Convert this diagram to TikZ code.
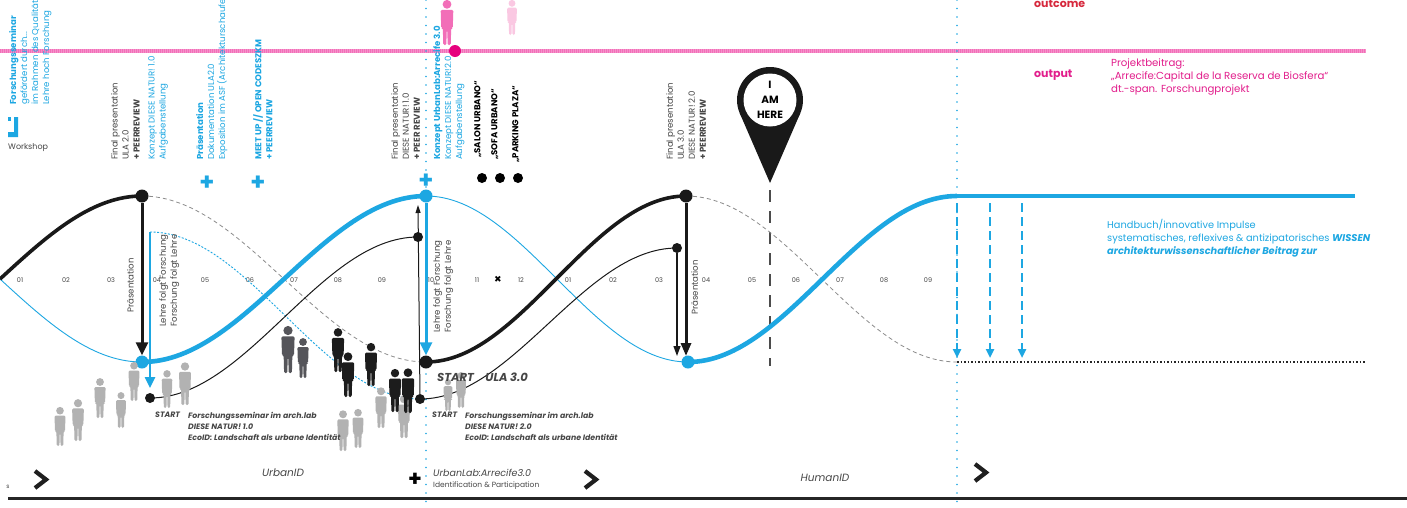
\documentclass[tikz,border=0pt]{standalone}
\usepackage{fontspec}
\setmainfont{Poppins}
\usetikzlibrary{arrows.meta}

\definecolor{ulablue}{RGB}{29,167,226}
\definecolor{txtgray}{RGB}{70,70,70}
\definecolor{pinkline}{RGB}{242,110,184}
\definecolor{magentadot}{RGB}{230,0,126}
\definecolor{outred}{RGB}{214,40,60}
\definecolor{outpink}{RGB}{226,30,140}
\definecolor{crowdgray}{RGB}{178,178,178}
\definecolor{crowddark}{RGB}{28,28,28}
\definecolor{crowdmid}{RGB}{85,85,90}
\definecolor{lightpink}{RGB}{250,200,226}

% half cosine wave from (a,ya) to (b,yb), drawn on the interval [from,to]
\newcommand\halfwave[6]{plot[domain=#5:#6,samples=60,variable=\t]
  (\t,{((#2)+(#4))/2+((#2)-(#4))/2*cos(180*((\t-(#1))/((#3)-(#1))))})}

\tikzset{
  rot/.style={rotate=90, anchor=north west, align=left, inner sep=0pt},
  tick/.style={font=\fontsize{6.5}{7}\selectfont, text=txtgray, inner sep=0pt},
  thickblack/.style={line width=3.6pt, black!90},
  thickblue/.style={line width=4.6pt, ulablue},
  thinblack/.style={line width=1pt, black!90},
  thinblue/.style={line width=0.9pt, ulablue},
  dashblue/.style={line width=0.9pt, ulablue, dash pattern=on 2pt off 1.6pt},
  dashgray/.style={line width=0.8pt, black!45, dash pattern=on 4pt off 3pt},
  vdots/.style={line width=1.8pt, ulablue, dash pattern=on 0pt off 8.5pt, line cap=round},
  bigdot/.style={circle, inner sep=0pt, minimum size=13pt},
  smalldot/.style={circle, fill=black!90, inner sep=0pt, minimum size=10pt},
  plussign/.style={font=\bfseries\fontsize{24}{24}\selectfont, text=ulablue, inner sep=0pt},
  chevron/.style={line width=4.2pt, black!88, miter limit=4},
  starttxt/.style={font=\bfseries\itshape\fontsize{7.8}{11}\selectfont, text=txtgray, anchor=north west, align=left, inner sep=0pt},
  person/.pic={
    \fill (0,-36) circle[radius=3.9pt];
    \fill[rounded corners=1.3pt] (-5.6,-31) -- (5.6,-31) -- (5.1,-15) -- (3.7,-15)
      -- (3.3,0) -- (0.6,0) -- (0.25,-13) -- (-0.25,-13) -- (-0.6,0) -- (-3.3,0)
      -- (-3.7,-15) -- (-5.1,-15) -- cycle;
  }
}

\begin{document}
\begin{tikzpicture}[x=1pt,y=-1pt,font=\fontsize{8.6}{11}\selectfont]
\useasboundingbox (0,0) rectangle (1407,507);
\fill[white] (0,0) rectangle (1407,507);

% ---------- output / outcome band ----------
\coordinate (pinkL) at (0,51);
\coordinate (pinkR) at (1366,51);
\draw[line width=3.2pt, pinkline!75] (pinkL) -- (pinkR);
\draw[line width=3.2pt, pinkline, dash pattern=on 1pt off 1pt] (pinkL) -- (pinkR);

\pic[pinkline, scale=1.13] at (447,45) {person};
\pic[lightpink, scale=0.88] at (512,35) {person};
\node[circle, fill=magentadot, inner sep=0pt, minimum size=12pt] (outdot) at (455,51) {};

\node[anchor=west, inner sep=0pt, text=outred, font=\bfseries\fontsize{11}{12}\selectfont] (outcome) at (1034,4) {outcome};
\node[anchor=west, inner sep=0pt, text=outpink, font=\bfseries\fontsize{11}{12}\selectfont] (output) at (1034,75) {output};
\node[anchor=north west, inner sep=0pt, align=left, text=outpink, font=\fontsize{10.2}{13}\selectfont] (projekt) at (1111,59)
  {Projektbeitrag:\\„Arrecife:Capital de la Reserva de Biosfera“\\dt.-span. Forschungprojekt};

% ---------- phase separators ----------
\coordinate (sepAtop) at (426,0);
\coordinate (sepAbot) at (426,507);
\coordinate (sepBtop) at (957,0);
\coordinate (sepBbot) at (957,507);
\draw[vdots] (sepAtop) -- (sepAbot);
\draw[vdots] (sepBtop) -- (sepBbot);

% ---------- workshop legend ----------
\fill[ulablue] (14,117) -- (18,117) -- (18,137) -- (8,137) -- (8,132) -- (14,132) -- cycle;
\fill[ulablue] (8,117) rectangle (11,121);
\node[anchor=west, inner sep=0pt, text=txtgray, font=\fontsize{8}{9}\selectfont] (workshop) at (8,148) {Workshop};

% ---------- rotated milestone labels ----------
\node[rot, text=ulablue] (fsem) at (9,105)
  {\textbf{Forschungsseminar}\\gefördert durch...\\im Rahmen des Qualitätspakts Lehre\\Lehre hoch Forschung};
\node[rot, text=txtgray] (finA) at (111,160)
  {Final presentation\\ULA 2.0\\\textbf{+ PEERREVIEW}};
\node[rot, text=ulablue] (konzA) at (148,160)
  {Konzept DIESE NATUR! 1.0\\Aufgabenstellung};
\node[rot, text=ulablue] (praesA) at (196,160)
  {\textbf{Präsentation}\\Dokumentation ULA2.0\\Exposition im ASF (Architekturschaufenster)};
\node[rot, text=ulablue] (meet) at (253,160)
  {\textbf{MEET UP // OPEN CODESZKM}\\\textbf{+ PEERREVIEW}};
\node[rot, text=txtgray] (finB) at (391,160)
  {Final presentation\\DIESE NATUR! 1.0\\\textbf{+ PEER REVIEW}};
\node[rot, text=ulablue] (konzB) at (433,160)
  {\textbf{Konzept UrbanLab:Arrecife 3.0}\\Konzept DIESE NATUR!2.0\\Aufgabenstellung};
\node[rot, text=black, font=\bfseries\fontsize{8.6}{11}\selectfont] (salon) at (474,158) {„SALON URBANO“};
\node[rot, text=black, font=\bfseries\fontsize{8.6}{11}\selectfont] (sofa) at (491,160) {„SOFA URBANO“};
\node[rot, text=black, font=\bfseries\fontsize{8.6}{11}\selectfont] (parking) at (512,163) {„PARKING PLAZA“};
\node[rot, text=txtgray] (finC) at (666,160)
  {Final presentation\\ULA 3.0\\DIESE NATUR! 2.0\\\textbf{+ PEERREVIEW}};

\node[plussign] (plusA) at (207,183) {+};
\node[plussign] (plusB) at (258,183) {+};
\node[plussign] (plusC) at (426,181) {+};
\foreach \px/\nm in {482/dA,500/dB,518/dC}
  \node[circle, fill=black, inner sep=0pt, minimum size=10pt] (\nm) at (\px,178) {};

% ---------- I AM HERE marker ----------
\coordinate (pinc) at (770,100);
\coordinate (pintip) at (770,183);
\fill[black!90] (739.7,113.1) -- (pintip) -- (800.3,113.1) -- cycle;
\fill[black!90] (pinc) circle[radius=33pt];
\fill[white] (pinc) circle[radius=26.5pt];
\node[align=center, inner sep=0pt, font=\bfseries\fontsize{10.5}{15}\selectfont] (here) at (pinc) {I\\AM\\HERE};
\coordinate (nowtop) at (770,190);
\coordinate (nowbot) at (770,366);
\draw[line width=1.6pt, black!70, dash pattern=on 12pt off 9pt] (nowtop) -- (nowbot);

% ---------- time axis ----------
\foreach \tx/\tl in {20/01,66/02,111/03,157/04,205/05,250/06,294/07,338/08,382/09,431/10,477/11,521/12,
                     568/01,613/02,659/03,706/04,752/05,796/06,840/07,884/08,928/09}
  \node[tick] at (\tx,280) {\tl};
\node[font=\bfseries\fontsize{12}{12}\selectfont, inner sep=0pt] (xmark) at (498,280) {×};

% ---------- waves ----------
\draw[dashgray] \halfwave{142}{196}{426}{362}{142}{426};
\draw[dashgray] \halfwave{686}{196}{957}{362}{686}{957};
\draw[thinblue] \halfwave{-142}{196}{142}{362}{0}{142};
\draw[thinblue] \halfwave{426}{196}{688}{362}{426}{688};
\draw[dashblue] \halfwave{150}{232}{420}{399}{150}{420};
\draw[thinblack] \halfwave{150}{398}{418}{237}{150}{418};
\draw[thinblack] \halfwave{420}{399}{677}{248}{420}{677};
\draw[thickblack] \halfwave{-142}{362}{142}{196}{0}{142};
\draw[thickblack] \halfwave{426}{362}{686}{196}{426}{686};
\draw[thickblue] \halfwave{142}{362}{426}{196}{142}{426};
\draw[thickblue] \halfwave{688}{362}{957}{196}{688}{957};

\coordinate (plateauL) at (957,196);
\coordinate (plateauR) at (1355,196);
\draw[thickblue] (plateauL) -- (plateauR);
\coordinate (baseL) at (957,362);
\coordinate (baseR) at (1366,362);
\draw[line width=1.2pt, black!85, dash pattern=on 1.5pt off 2pt] (baseL) -- (baseR);

% ---------- key points ----------
\node[bigdot, fill=black!90] (pkA) at (142,196) {};
\node[bigdot, fill=ulablue] (trA) at (142,362) {};
\node[bigdot, fill=ulablue] (pkB) at (426,196) {};
\node[bigdot, fill=black!90] (trB) at (426,362) {};
\node[bigdot, fill=black!90] (pkC) at (686,196) {};
\node[bigdot, fill=ulablue] (trC) at (688,362) {};
\node[smalldot] (loA) at (150,398) {};
\node[smalldot] (hiA) at (418,237) {};
\node[smalldot] (loB) at (420,399) {};
\node[smalldot] (hiB) at (677,248) {};
\coordinate (bluestartA) at (150,232);
\coordinate (blueendA) at (150,388);

% ---------- transfer arrows ----------
\coordinate (upB) at (418,205);
\coordinate (downC) at (686,356);
\coordinate (downD) at (677,356);
\draw[thickblack, line width=3pt, -{Triangle[length=13pt,width=12pt]}] (pkA) -- (trA);
\draw[thinblue, line width=2.4pt, -{Triangle[length=11pt,width=10pt]}] (bluestartA) -- (blueendA);
\draw[thickblue, line width=3pt, -{Triangle[length=13pt,width=12pt]}] (pkB) -- (trB);
\draw[thinblack, -{Triangle[length=8pt,width=5pt]}] (loB) -- (upB);
\draw[thickblack, line width=3pt, -{Triangle[length=13pt,width=10pt]}] (pkC) -- (downC);
\draw[thinblack, line width=1.3pt, -{Triangle[length=10pt,width=7pt]}] (hiB) -- (downD);

\node[rot, text=txtgray] (praesB) at (127,313) {Präsentation};
\node[rot, text=txtgray] (lehreA) at (159,327) {Lehre folgt Forschung\\Forschung folgt Lehre};
\node[rot, text=txtgray] (lehreB) at (433,333) {Lehre folgt Forschung\\Forschung folgt Lehre};
\node[rot, text=txtgray] (praesC) at (691,315) {Präsentation};

% ---------- knowledge output arrows ----------
\foreach \ax/\nm in {957/kA,990/kB,1022/kC}{
  \coordinate (\nm top) at (\ax,203);
  \coordinate (\nm bot) at (\ax,358);
  \draw[ulablue, line width=2.4pt, dash pattern=on 9pt off 5pt, -{Triangle[length=9pt,width=8pt]}] (\nm top) -- (\nm bot);
}
\node[anchor=north west, inner sep=0pt, align=left, text=ulablue, font=\fontsize{9.8}{13}\selectfont] (wissen) at (1107,219)
  {Handbuch/innovative Impulse\\systematisches, reflexives \& antizipatorisches \textbf{\textit{WISSEN}}\\\textbf{\textit{architekturwissenschaftlicher Beitrag zur}}};

% ---------- crowds ----------
\foreach \cx/\cy/\cs in {60/446/0.98, 78/441/1.05, 100/418/1.0, 121/428/0.9, 134/401/0.98,
                        167/408/0.95, 185/405/1.07, 343/451/1.02, 358/448/0.98, 381/428/1.02,
                        404/438/1.08, 448/411/0.8, 461/408/0.9}
  \pic[crowdgray, scale=\cs] at (\cx,\cy) {person};
\foreach \cx/\cy/\cs in {288/373/1.18, 303/378/1.0}
  \pic[crowdmid, scale=\cs] at (\cx,\cy) {person};
\foreach \cx/\cy/\cs in {338/372/1.1, 348/397/1.12, 371/386/1.08, 395/412/1.08, 408/413/1.12}
  \pic[crowddark, scale=\cs] at (\cx,\cy) {person};

% ---------- start notes ----------
\node[starttxt] (startA) at (155,412) {START};
\node[starttxt] (noteA) at (188,412)
  {Forschungsseminar im arch.lab\\DIESE NATUR! 1.0\\EcoID: Landschaft als urbane Identität};
\node[starttxt] (startB) at (432,412) {START};
\node[starttxt] (noteB) at (465,412)
  {Forschungsseminar im arch.lab\\DIESE NATUR! 2.0\\EcoID: Landschaft als urbane Identität};
\node[anchor=west, inner sep=0pt, text=txtgray, font=\bfseries\itshape\fontsize{11.5}{12}\selectfont] (startC) at (437,377) {START\quad ULA 3.0};

% ---------- phase bar ----------
\coordinate (barL) at (8,498);
\coordinate (barR) at (1407,498);
\draw[line width=3pt, black!85] (barL) -- (barR);
\node[inner sep=0pt, text=txtgray, font=\fontsize{6}{6}\selectfont] (sfrag) at (8,487) {s};
\draw[chevron] (35,471) -- (46,479.5) -- (35,488);
\draw[chevron] (585,471) -- (596,479.5) -- (585,488);
\draw[chevron] (975,464) -- (986,472.5) -- (975,481);
\node[inner sep=0pt, font=\bfseries\fontsize{22}{22}\selectfont] (plusD) at (415,480) {+};
\node[inner sep=0pt, text=txtgray, font=\itshape\fontsize{10.5}{11}\selectfont] (urbanid) at (283,473) {UrbanID};
\node[anchor=west, inner sep=0pt, text=txtgray, font=\itshape\fontsize{9.5}{10}\selectfont] (urbanlab) at (433,473) {UrbanLab:Arrecife3.0};
\node[anchor=west, inner sep=0pt, text=txtgray, font=\fontsize{7.5}{8}\selectfont] (ident) at (433,486) {Identification \& Participation};
\node[inner sep=0pt, text=txtgray, font=\itshape\fontsize{10.5}{11}\selectfont] (humanid) at (825,478) {HumanID};
\end{tikzpicture}
\end{document}
